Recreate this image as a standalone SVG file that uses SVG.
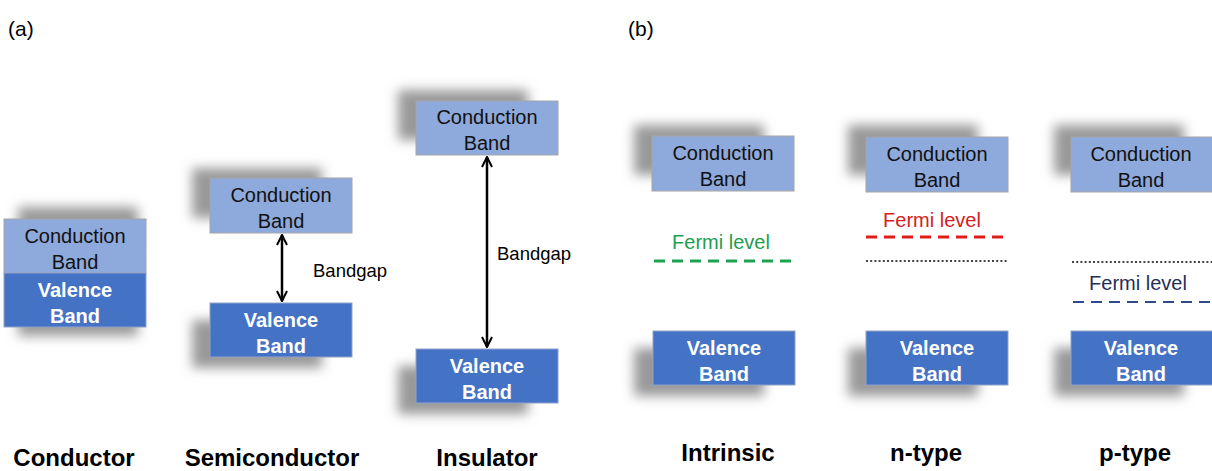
<svg xmlns="http://www.w3.org/2000/svg" width="1212" height="471" viewBox="0 0 1212 471">
<style>
.cb{fill:#8EA9DB;stroke:#A6A6A6;stroke-width:1}
.vb{fill:#4472C4;stroke:#8FA3C8;stroke-width:1}
.sh{fill:#999;filter:url(#blur)}
.tc{font-family:"Liberation Sans",Arial,sans-serif;font-size:20px;fill:#111;text-anchor:middle}
.tv{font-family:"Liberation Sans",Arial,sans-serif;font-size:20px;fill:#fff;font-weight:bold;text-anchor:middle}
.lab{font-family:"Liberation Sans",Arial,sans-serif;font-size:24px;font-weight:bold;fill:#000;text-anchor:middle}
.bg{font-family:"Liberation Sans",Arial,sans-serif;font-size:18.5px;fill:#000}
.fl{font-family:"Liberation Sans",Arial,sans-serif;font-size:20px;text-anchor:middle}
.pn{font-family:"Liberation Sans",Arial,sans-serif;font-size:21px;fill:#000}
</style>
<defs>
<filter id="blur" x="-30%" y="-50%" width="160%" height="200%"><feGaussianBlur stdDeviation="6"/></filter>
<marker id="ah" viewBox="0 0 12 12" refX="11" refY="6" markerWidth="12" markerHeight="12" markerUnits="userSpaceOnUse" orient="auto-start-reverse">
<path d="M1,1 L11,6 L1,11" fill="none" stroke="#000" stroke-width="2"/>
</marker>
</defs>
<rect width="1212" height="471" fill="#fff"/>
<text class="pn" x="8" y="36">(a)</text>
<text class="pn" x="628" y="36">(b)</text>

<g id="conductor">
<rect class="sh" x="18" y="207" width="120" height="40"/>
<rect class="sh" x="18" y="300" width="120" height="36"/>
<rect class="cb" x="4" y="219" width="142" height="54"/>
<rect class="vb" x="4" y="273" width="142" height="54"/>
<text class="tc" x="75" y="243">Conduction</text>
<text class="tc" x="75" y="269">Band</text>
<text class="tv" x="75" y="297">Valence</text>
<text class="tv" x="75" y="323">Band</text>
<text class="lab" x="74" y="466">Conductor</text>
</g>

<g id="semiconductor">
<rect class="sh" x="192" y="168" width="130" height="50"/>
<rect class="sh" x="192" y="320" width="130" height="48"/>
<rect class="cb" x="210" y="178" width="142" height="55"/>
<rect class="vb" x="210" y="303" width="142" height="54"/>
<text class="tc" x="281" y="202">Conduction</text>
<text class="tc" x="281" y="228">Band</text>
<text class="tv" x="281" y="327">Valence</text>
<text class="tv" x="281" y="353">Band</text>
<text class="lab" x="272" y="466">Semiconductor</text>
</g>

<g id="insulator">
<rect class="sh" x="398" y="90" width="130" height="50"/>
<rect class="sh" x="398" y="366" width="130" height="48"/>
<rect class="cb" x="416" y="101" width="142" height="54"/>
<rect class="vb" x="416" y="349" width="142" height="54"/>
<text class="tc" x="487" y="124">Conduction</text>
<text class="tc" x="487" y="150">Band</text>
<text class="tv" x="487" y="373">Valence</text>
<text class="tv" x="487" y="399">Band</text>
<text class="lab" x="487" y="466">Insulator</text>
</g>

<g id="intrinsic">
<rect class="sh" x="634" y="125" width="130" height="50"/>
<rect class="sh" x="634" y="348" width="130" height="48"/>
<rect class="cb" x="652" y="136" width="142" height="55"/>
<rect class="vb" x="653" y="331" width="142" height="54"/>
<text class="tc" x="723" y="160">Conduction</text>
<text class="tc" x="723" y="186">Band</text>
<text class="tv" x="724" y="355">Valence</text>
<text class="tv" x="724" y="381">Band</text>
<text class="fl" x="721" y="249" fill="#1E9E50">Fermi level</text>
<line x1="654" y1="261" x2="792" y2="261" stroke="#1EA252" stroke-width="3" stroke-dasharray="11,7"/>
<text class="lab" x="728" y="461">Intrinsic</text>
</g>

<g id="ntype">
<rect class="sh" x="848" y="125" width="130" height="50"/>
<rect class="sh" x="848" y="348" width="130" height="48"/>
<rect class="cb" x="866" y="137" width="142" height="55"/>
<rect class="vb" x="866" y="331" width="142" height="54"/>
<text class="tc" x="937" y="161">Conduction</text>
<text class="tc" x="937" y="187">Band</text>
<text class="tv" x="937" y="355">Valence</text>
<text class="tv" x="937" y="381">Band</text>
<text class="fl" x="932" y="227" fill="#D42020">Fermi level</text>
<line x1="866" y1="237" x2="1004" y2="237" stroke="#E01B1B" stroke-width="3" stroke-dasharray="11,7"/>
<line x1="866" y1="261" x2="1008" y2="261" stroke="#444" stroke-width="2.2" stroke-dasharray="2,2.2"/>
<text class="lab" x="926" y="461">n-type</text>
</g>

<g id="ptype">
<rect class="sh" x="1054" y="125" width="130" height="50"/>
<rect class="sh" x="1054" y="348" width="130" height="48"/>
<rect class="cb" x="1071" y="137" width="142" height="55"/>
<rect class="vb" x="1071" y="331" width="142" height="54"/>
<text class="tc" x="1141" y="161">Conduction</text>
<text class="tc" x="1141" y="187">Band</text>
<text class="tv" x="1141" y="355">Valence</text>
<text class="tv" x="1141" y="381">Band</text>
<line x1="1072" y1="262" x2="1212" y2="262" stroke="#444" stroke-width="2.2" stroke-dasharray="2,2.2"/>
<text class="fl" x="1138" y="290" fill="#1F2F5A">Fermi level</text>
<line x1="1073" y1="302" x2="1212" y2="302" stroke="#2F4A8A" stroke-width="2.2" stroke-dasharray="11,7"/>
<text class="lab" x="1135" y="461">p-type</text>
</g>

<g id="connectors">
<line x1="282" y1="235" x2="282" y2="301" stroke="#000" stroke-width="2.5" marker-start="url(#ah)" marker-end="url(#ah)"/>
<text class="bg" x="313" y="277">Bandgap</text>
<line x1="487" y1="157" x2="487" y2="347" stroke="#000" stroke-width="2.5" marker-start="url(#ah)" marker-end="url(#ah)"/>
<text class="bg" x="497" y="260">Bandgap</text>
</g>
</svg>
